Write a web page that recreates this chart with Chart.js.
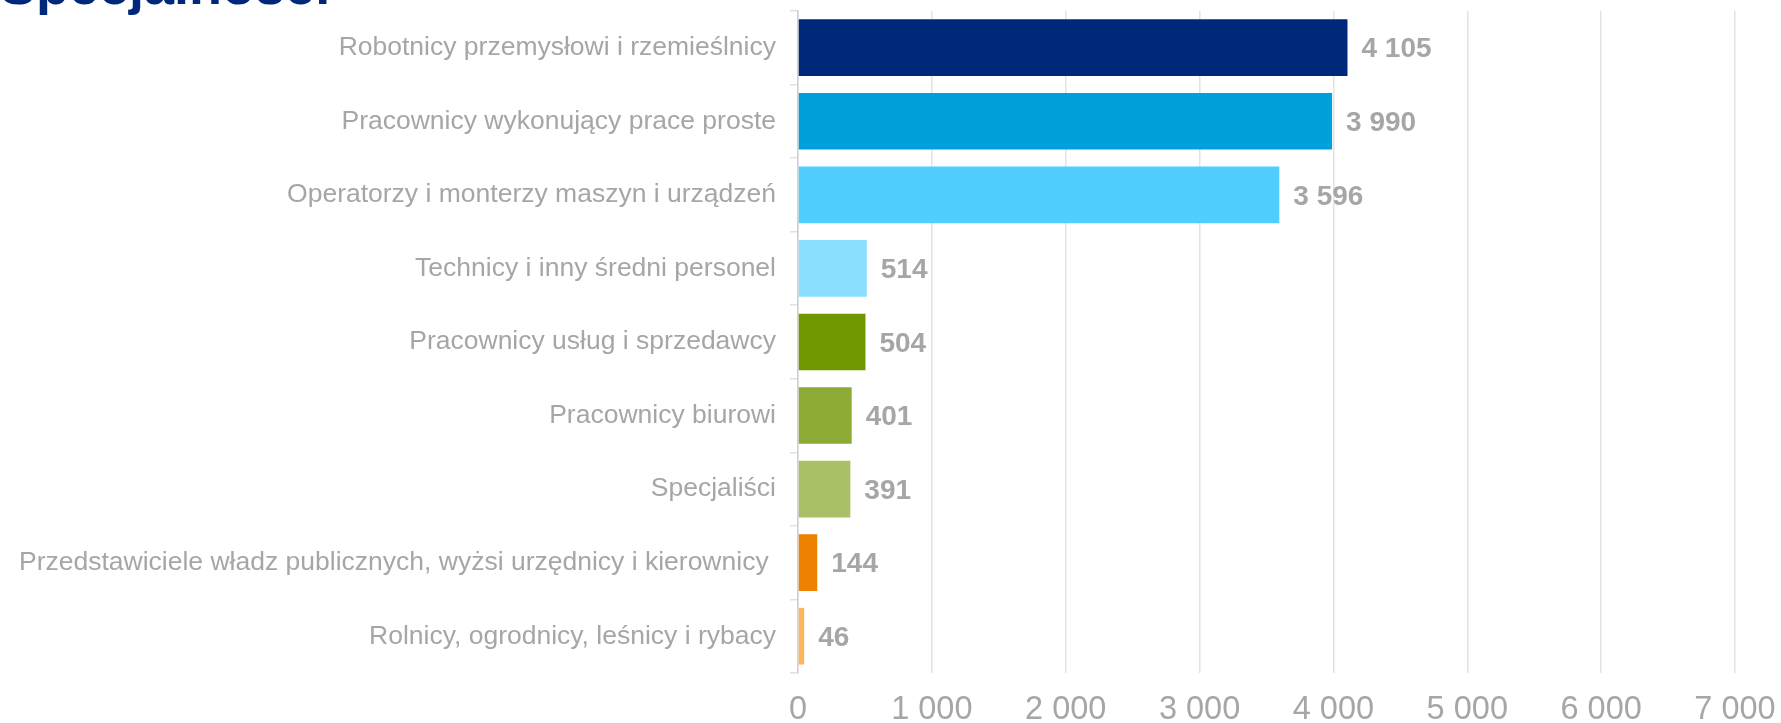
<!DOCTYPE html>
<html>
<head>
<meta charset="utf-8">
<script src="https://cdn.jsdelivr.net/npm/chart.js@4/dist/chart.umd.min.js"></script>
<style>
  html, body { margin: 0; padding: 0; background: #ffffff; }
  #wrap { position: relative; width: 1781px; height: 723px; overflow: hidden; }
  #title { position: absolute; left: 0px; top: -46px; margin: 0; font-family: "Liberation Sans", Arial, sans-serif; font-weight: bold; font-size: 54px; color: #00287A; white-space: nowrap; }
  #c { position: absolute; left: 0; top: -19px; }
</style>
</head>
<body>
<div id="wrap">
  <div id="title">Specjalności</div>
  <canvas id="c" width="1781" height="742"></canvas>
</div>
<script>
const categories = [
  "Robotnicy przemysłowi i rzemieślnicy",
  "Pracownicy wykonujący prace proste",
  "Operatorzy i monterzy maszyn i urządzeń",
  "Technicy i inny średni personel",
  "Pracownicy usług i sprzedawcy",
  "Pracownicy biurowi",
  "Specjaliści",
  "Przedstawiciele władz publicznych, wyżsi urzędnicy i kierownicy ",
  "Rolnicy, ogrodnicy, leśnicy i rybacy"
];
const values = [4105, 3990, 3596, 514, 504, 401, 391, 144, 46];
const barColors = ["#00287A", "#00A0DC", "#50CEFF", "#8ADFFF", "#709600", "#8DAA35", "#AAC066", "#EC8200", "#FFB65A"];
const tickValues = [0, 1000, 2000, 3000, 4000, 5000, 6000, 7000];

const fmt = v => String(v).replace(/\B(?=(\d{3})+(?!\d))/g, " ");

const valueLabels = {
  id: "valueLabels",
  afterDatasetsDraw(chart) {
    const ctx = chart.ctx;
    const meta = chart.getDatasetMeta(0);
    ctx.save();
    ctx.font = "bold 28px 'Liberation Sans', Arial, sans-serif";
    ctx.fillStyle = "#A6A6A6";
    ctx.textAlign = "left";
    ctx.textBaseline = "middle";
    meta.data.forEach((bar, i) => {
      ctx.fillText(fmt(chart.data.datasets[0].data[i]), bar.x + 14, bar.y + 2);
    });
    ctx.restore();
  }
};

new Chart(document.getElementById("c"), {
  type: "bar",
  data: {
    labels: categories,
    datasets: [{
      data: values,
      backgroundColor: barColors,
      borderWidth: 0,
      barPercentage: 0.77,
      categoryPercentage: 1.0
    }]
  },
  options: {
    indexAxis: "y",
    responsive: false,
    animation: false,
    devicePixelRatio: 1,
    layout: { padding: { top: 10, right: 46, left: 0, bottom: 0 } },
    plugins: { legend: { display: false }, tooltip: { enabled: false }, title: { display: false } },
    scales: {
      x: {
        min: 0, max: 7000,
        afterBuildTicks: s => { s.ticks = tickValues.map(v => ({ value: v })); },
        ticks: {
          callback: v => fmt(v),
          color: "#A6A6A6",
          font: { family: "'Liberation Sans', Arial, sans-serif", size: 32.5 },
          padding: 18,
          maxRotation: 0
        },
        grid: { color: "#E3E3E3", lineWidth: 1.5, drawTicks: false },
        border: { display: false },
        afterFit: s => { s.height = 50; s.paddingLeft = 0; s.paddingRight = 0; }
      },
      y: {
        ticks: {
          color: "#A6A6A6",
          font: { family: "'Liberation Sans', Arial, sans-serif", size: 26.5 },
          padding: 14,
          autoSkip: false
        },
        grid: { drawOnChartArea: false, drawTicks: true, tickLength: 8, color: "#E0E0E0", lineWidth: 1.5 },
        border: { display: true, color: "#D0D0D0", width: 1.5 },
        afterFit: s => { s.width = 798; }
      }
    }
  },
  plugins: [valueLabels]
});
</script>
</body>
</html>
